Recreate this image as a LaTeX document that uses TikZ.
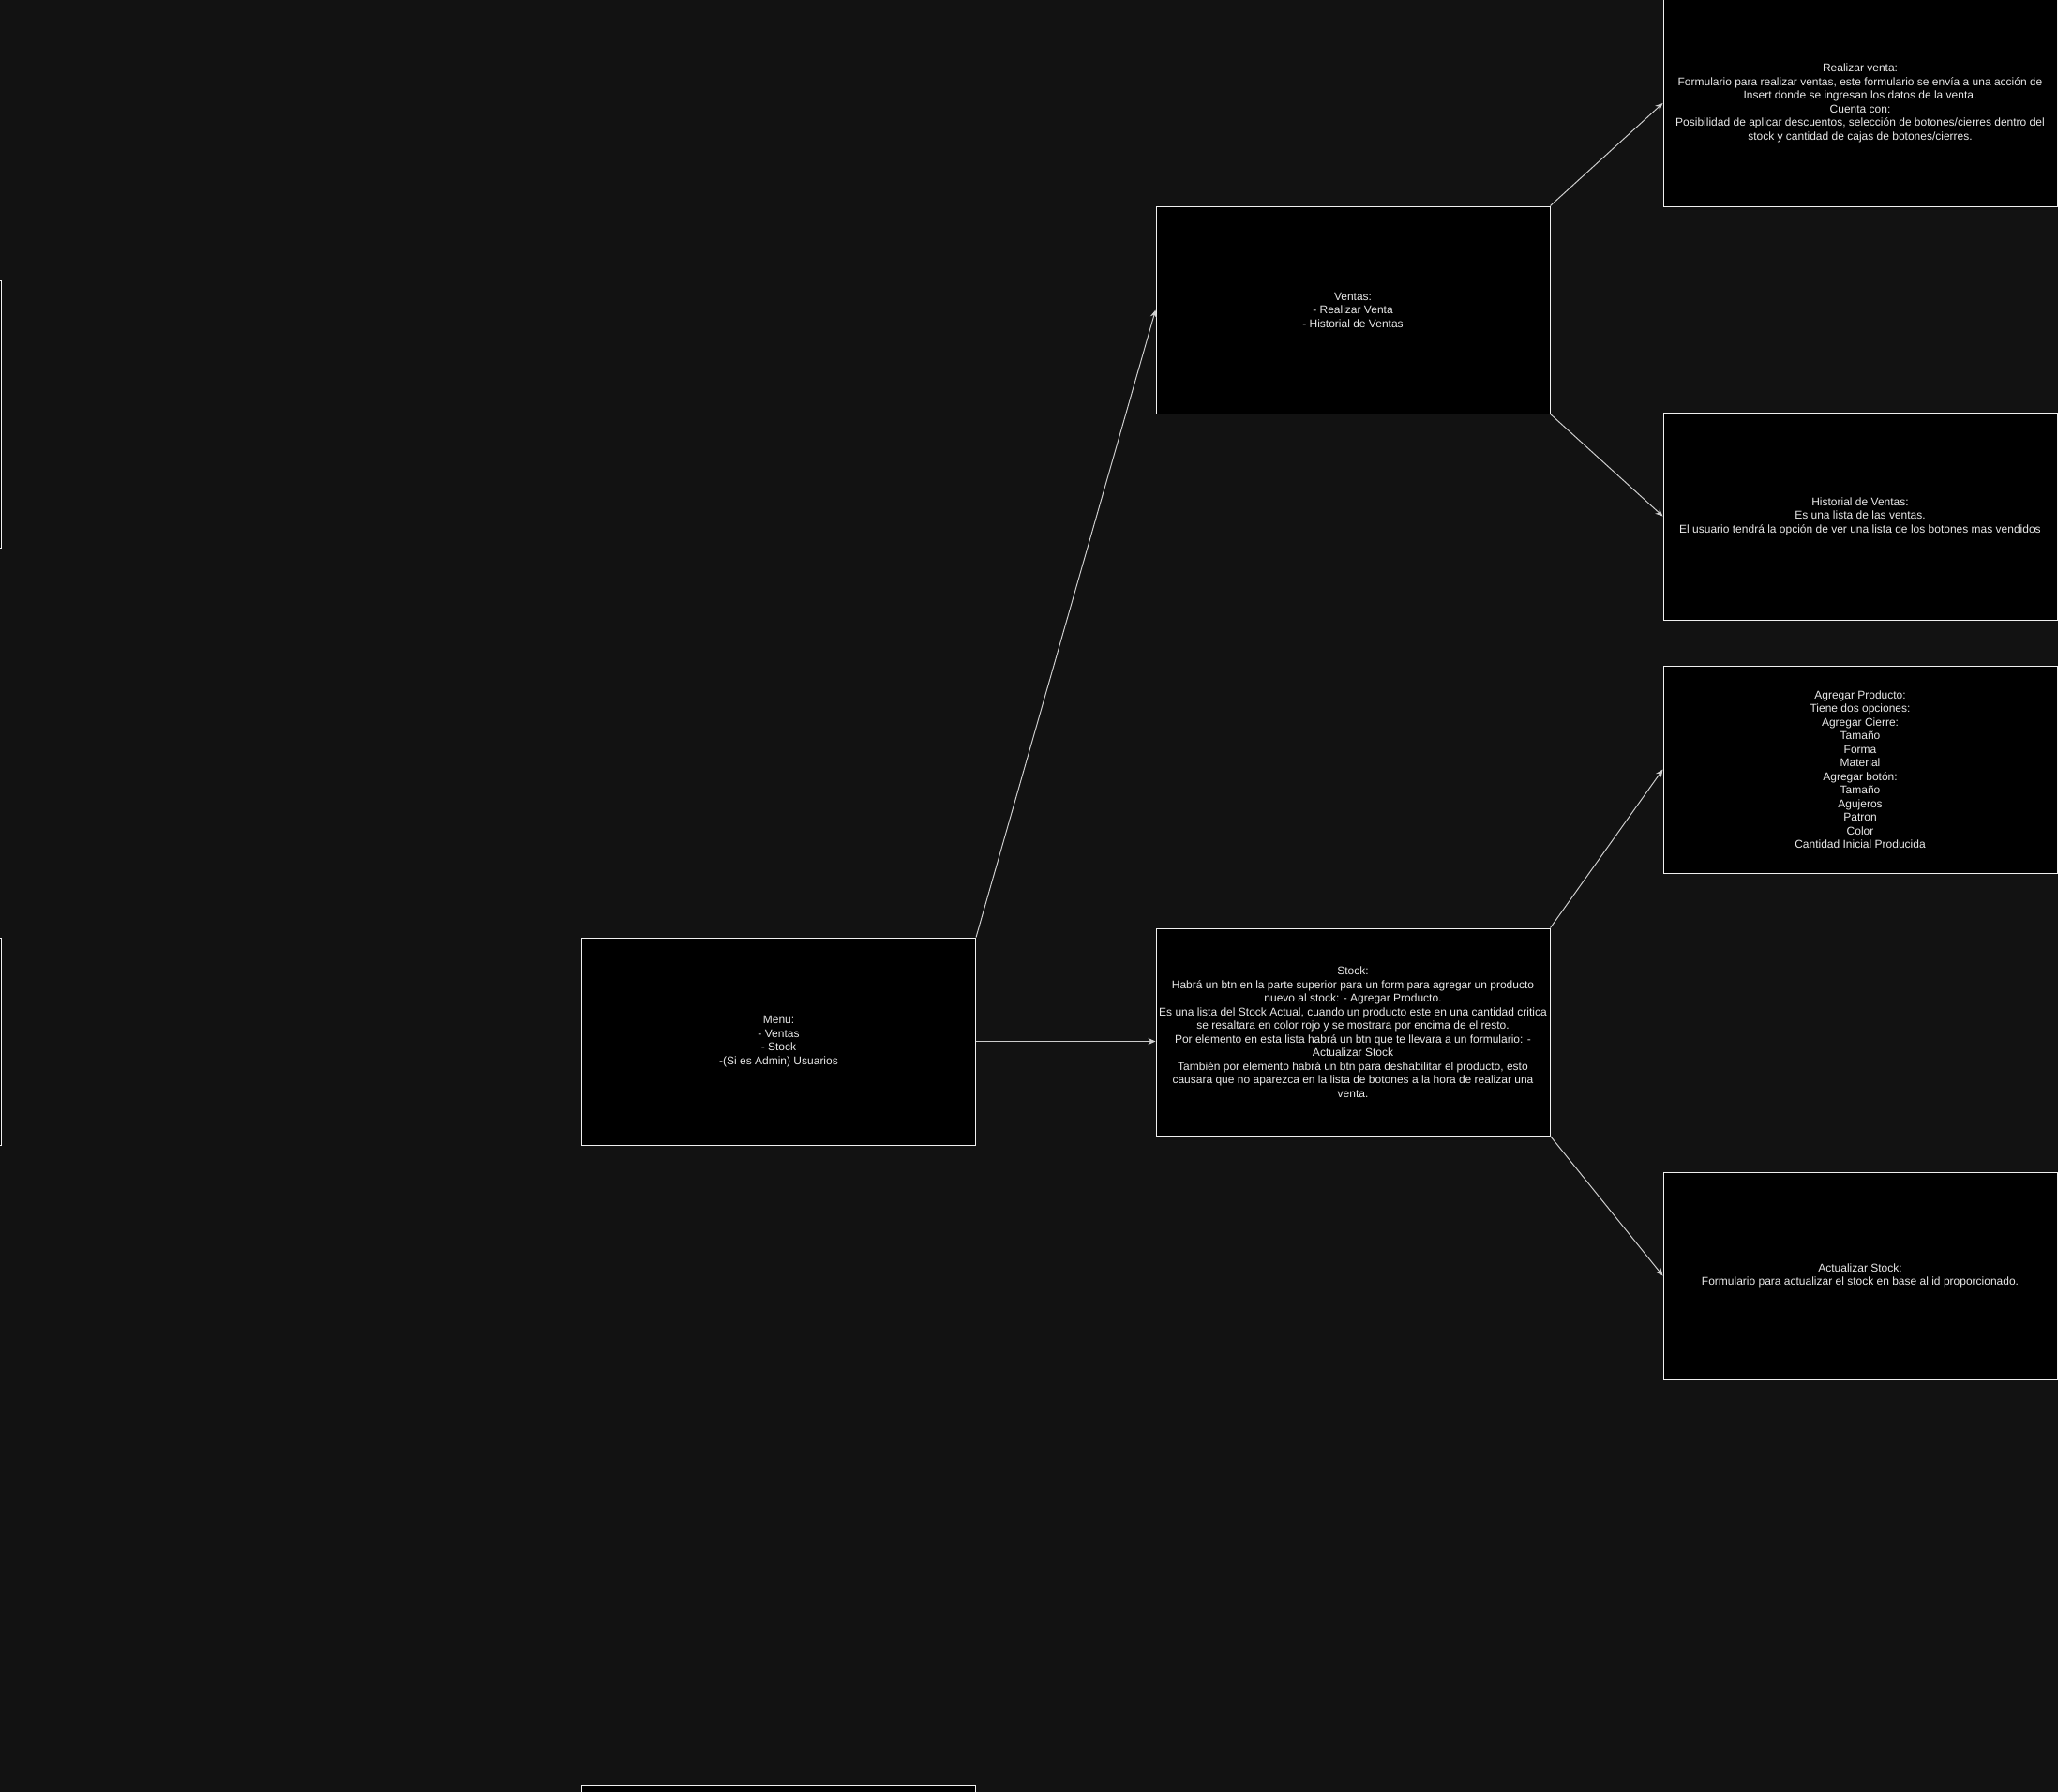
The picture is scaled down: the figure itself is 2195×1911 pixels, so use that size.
\documentclass[tikz,border=0pt]{standalone}
\usepackage{fontspec}
\setmainfont{Liberation Sans}
\usetikzlibrary{arrows.meta}
\definecolor{fondo}{RGB}{18,18,18}
\definecolor{borde}{RGB}{240,240,240}
\definecolor{texto}{RGB}{232,232,232}
\definecolor{linea}{RGB}{205,205,205}

\tikzset{
  caja/.style={draw=borde,fill=black,text=texto,line width=1pt,
    minimum width=420pt,minimum height=221pt,inner sep=0pt,align=center,
    font=\fontsize{12}{14.5}\selectfont},
  flecha/.style={draw=linea,line width=1pt,-{Stealth[length=8pt,width=7pt]}}
}

\begin{document}
\begin{tikzpicture}[x=1pt,y=-1pt]
\fill[fondo] (0,0) rectangle (2195,1911);
\useasboundingbox (0,0) rectangle (2195,1911);

% cajas cortadas por el borde
\node [caja,minimum height=285pt] (izqarriba) at (-209,441.5) {};
\node [caja] (izqabajo) at (-209,1110.5) {};
\node [caja] (abajo) at (830.5,2014.5) {};

\node [caja] (menu) at (830.5,1110.5)
{Menu:\\- Ventas\\- Stock\\-(Si es Admin) Usuarios};

\node [caja] (ventas) at (1443,330.5)
{Ventas:\\- Realizar Venta\\- Historial de Ventas};

\node [caja] (stock) at (1443,1100.5)
{Stock:\\
Habrá un btn en la parte superior para un form para agregar un producto\\
nuevo al stock: - Agregar Producto.\\
Es una lista del Stock Actual, cuando un producto este en una cantidad critica\\
se resaltara en color rojo y se mostrara por encima de el resto.\\
Por elemento en esta lista habrá un btn que te llevara a un formulario: -\\
Actualizar Stock\\
También por elemento habrá un btn para deshabilitar el producto, esto\\
causara que no aparezca en la lista de botones a la hora de realizar una\\
venta.};

\node [caja] (realizar) at (1984,110)
{Realizar venta:\\
Formulario para realizar ventas, este formulario se envía a una acción de\\
Insert donde se ingresan los datos de la venta.\\
Cuenta con:\\
Posibilidad de aplicar descuentos, selección de botones/cierres dentro del\\
stock y cantidad de cajas de botones/cierres.};

\node [caja] (historial) at (1984,550.5)
{Historial de Ventas:\\
Es una lista de las ventas.\\
El usuario tendrá la opción de ver una lista de los botones mas vendidos};

\node [caja] (agregar) at (1984,820.5)
{Agregar Producto:\\Tiene dos opciones:\\Agregar Cierre:\\Tamaño\\Forma\\Material\\
Agregar botón:\\Tamaño\\Agujeros\\Patron\\Color\\Cantidad Inicial Producida};

\node [caja] (actualizar) at (1984,1360.5)
{Actualizar Stock:\\
Formulario para actualizar el stock en base al id proporcionado.};

% conexiones
\draw [flecha] (menu.north east) -- (ventas.west);
\draw [flecha] (menu.east) -- (stock.west |- menu.east);
\draw [flecha] (ventas.north east) -- (realizar.west);
\draw [flecha] (ventas.south east) -- (historial.west);
\draw [flecha] (stock.north east) -- (agregar.west);
\draw [flecha] (stock.south east) -- (actualizar.west);
\end{tikzpicture}
\end{document}
